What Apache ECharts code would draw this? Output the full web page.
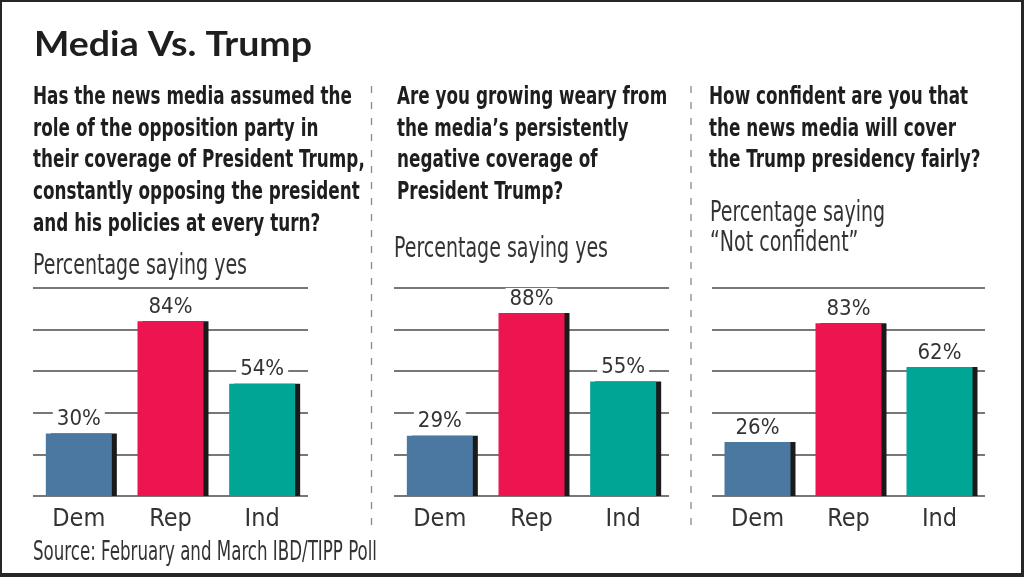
<!DOCTYPE html>
<html>
<head>
<meta charset="utf-8">
<script src="https://cdn.jsdelivr.net/npm/echarts@6/dist/echarts.min.js"></script>
<style>
  html, body { margin:0; padding:0; background:#fff; }
  #wrap { position:relative; width:1024px; height:577px; overflow:hidden; }
  #chart { position:absolute; left:0; top:0; width:1024px; height:577px; }
  #frame { position:absolute; left:0; top:0; width:1024px; height:577px; box-sizing:border-box;
           border-style:solid; border-color:#262626; border-width:2px 3px 4px 2px; pointer-events:none; }
</style>
</head>
<body>
<div id="wrap"><div id="chart"></div><div id="frame"></div></div>
<script>
// ---- data ----
const titleText = 'Media Vs. Trump';
const categories = ['Dem', 'Rep', 'Ind'];
const mediaOppositionValues = [30, 84, 54];
const wearyValues = [29, 88, 55];
const notConfidentValues = [26, 83, 62];
const question1 = ['Has the news media assumed the', 'role of the opposition party in', 'their coverage of President Trump,', 'constantly opposing the president', 'and his policies at every turn?'];
const question2 = ['Are you growing weary from', 'the media\u2019s persistently', 'negative coverage of', 'President Trump?'];
const question3 = ['How confident are you that', 'the news media will cover', 'the Trump presidency fairly?'];
const subtitle1 = ['Percentage saying yes'];
const subtitle2 = ['Percentage saying yes'];
const subtitle3 = ['Percentage saying', '\u201CNot confident\u201D'];
const sourceText = 'Source: February and March IBD/TIPP Poll';

// ---- style ----
const NARROW = '"Liberation Sans Narrow", "DejaVu Sans Condensed", "Roboto Condensed", sans-serif';
const barColors = ['#4a78a1', '#ec1550', '#00a595'];
const panels = [
  { values: mediaOppositionValues, question: question1, subtitle: subtitle1, grid: { left: 33, width: 275 }, qx: 33, sx: 33, subY: [266] },
  { values: wearyValues, question: question2, subtitle: subtitle2, grid: { left: 394, width: 275 }, qx: 397, sx: 394, subY: [249] },
  { values: notConfidentValues, question: question3, subtitle: subtitle3, grid: { left: 712, width: 273 }, qx: 709, sx: 710, subY: [213, 243] }
];

const mctx = document.createElement('canvas').getContext('2d');
function scaleFor(text, font, target) { mctx.font = font; return target / mctx.measureText(text).width; }

const titleFont = 'bold 35px Lato';
const qFont = 'bold 25px ' + NARROW;
const subFont = '29px ' + NARROW;
const srcFont = '26px ' + NARROW;
const titleScale = scaleFor(titleText, titleFont, 278);
const qScale = scaleFor(question1[0], qFont, 319);
const subScale = scaleFor(subtitle1[0], subFont, 214);
const srcScale = scaleFor(sourceText, srcFont, 344);

function textEl(text, x, y, scale, size, weight, family, fill) {
  return { type: 'text', x: x, y: y, scaleX: scale, silent: true,
    style: { text: text, fontSize: size, fontWeight: weight, fontFamily: family, fill: fill, align: 'left', verticalAlign: 'middle' } };
}

const graphic = [];
graphic.push(textEl(titleText, 34, 45, titleScale, 35, 'bold', 'Lato', '#1e1e1e'));
panels.forEach(p => {
  p.question.forEach((line, i) => graphic.push(textEl(line, p.qx, 97.5 + 31.7 * i, qScale, 25, 'bold', NARROW, '#1e1e1e')));
  p.subtitle.forEach((line, i) => graphic.push(textEl(line, p.sx, p.subY[i], subScale, 29, 'normal', NARROW, '#333')));
});
graphic.push(textEl(sourceText, 33, 553, srcScale, 26, 'normal', NARROW, '#333'));
[371.5, 691].forEach(x => graphic.push({ type: 'line', silent: true,
  shape: { x1: x, y1: 86, x2: x, y2: 532 },
  style: { stroke: '#888', lineWidth: 1.3, lineDash: [7, 9] } }));

const grids = [], xAxes = [], yAxes = [], series = [];
panels.forEach((p, i) => {
  grids.push({ left: p.grid.left, width: p.grid.width, top: 288, height: 208 });
  xAxes.push({ type: 'category', gridIndex: i, data: categories,
    axisLine: { show: false }, axisTick: { show: false },
    axisLabel: { fontFamily: NARROW, fontSize: 25, color: '#333', margin: 11 } });
  yAxes.push({ type: 'value', gridIndex: i, min: 0, max: 100, interval: 20,
    axisLabel: { show: false }, axisLine: { show: false }, axisTick: { show: false },
    splitLine: { show: true, lineStyle: { color: '#4a4a4a', width: 1.5 } } });
  series.push({ type: 'bar', xAxisIndex: i, yAxisIndex: i, barWidth: 66,
    data: p.values.map((v, k) => ({ value: v, itemStyle: { color: barColors[k] } })),
    itemStyle: { shadowColor: '#1a1a1a', shadowOffsetX: 5, shadowOffsetY: 0, shadowBlur: 0 },
    label: { show: true, position: 'top', distance: 3, formatter: '{c}%', fontFamily: NARROW, fontSize: 22,
      color: '#333', backgroundColor: '#fff', padding: [0, 4, 0, 4] },
    emphasis: { disabled: true }, silent: true });
});

const chart = echarts.init(document.getElementById('chart'), null, { renderer: 'canvas' });
chart.setOption({ animation: false, backgroundColor: '#fff', grid: grids, xAxis: xAxes, yAxis: yAxes, series: series, graphic: graphic });
</script>
</body>
</html>
